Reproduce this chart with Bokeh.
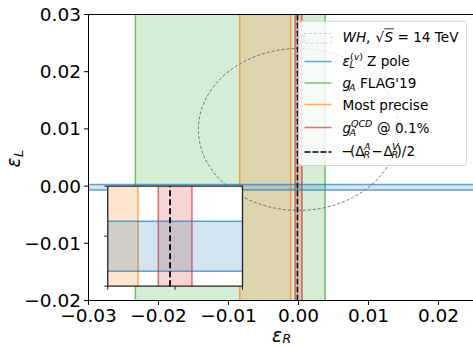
import math
from bokeh.plotting import figure
from bokeh.models import Range1d, Label, BoxAnnotation, Arrow
from bokeh.core.properties import value
from bokeh.embed import file_html
from bokeh.resources import INLINE

# ---------------- data ----------------
X_LIM = [-0.03, 0.025]
Y_LIM = [-0.02, 0.03]
X_TICKS = [-0.03, -0.02, -0.01, 0.0, 0.01, 0.02]
X_TICK_LABELS = ["−0.03", "−0.02", "−0.01", "0.00", "0.01", "0.02"]
Y_TICKS = [-0.02, -0.01, 0.0, 0.01, 0.02, 0.03]
Y_TICK_LABELS = ["−0.02", "−0.01", "0.00", "0.01", "0.02", "0.03"]

GA_FLAG19_EPS_R = [-0.0233, 0.0038]      # g_A FLAG'19 band (eps_R)
MOST_PRECISE_EPS_R = [-0.0084, -0.0011]  # most precise band (eps_R)
GA_QCD_EPS_R = [-0.0005, 0.0005]         # g_A^QCD @ 0.1% band (eps_R)
DELTA_EPS_R = [-0.00015]                 # -(Delta_R^A - Delta_R^V)/2
ZPOLE_EPS_L = [-0.0007, 0.0003]          # eps_L^(v) Z pole band (eps_L)
WH_CENTER = [0.0, 0.0099]                # WH ellipse centre (eps_R, eps_L)
WH_SIZE = [0.0286, 0.0283]               # WH ellipse full width / height

INSET_X_LIM = [-0.002, 0.002]
INSET_Y_LIM = [-0.001, 0.001]
INSET_X_TICKS = [-0.002, 0.0, 0.002]
INSET_Y_TICKS = [-0.001, 0.0, 0.001]

# ---------------- style / layout ----------------
BLUE, ORANGE, GREEN, RED = "#1f77b4", "#ff7f0e", "#2ca02c", "#d62728"
W, H = 473, 346
AX_LEFT, AX_RIGHT = 88, 473          # data area in canvas pixels
AX_TOP, AX_BOTTOM = 14, 300
INSET_FRAC = (0.05, 0.05, 0.40, 0.40)
FILL_A, EDGE_A, EDGE_W = 0.2, 0.65, 1.5
FONT = "DejaVu Sans"
TICK_PX = 18.5
BL = 0.36   # baseline correction (fraction of font size) for the svg text placement

# The whole canvas is the plotting frame (pixel coordinates, y up);
# the data axes are a sub-coordinate system mapped into it.
p = figure(width=W, height=H, x_range=Range1d(0, W), y_range=Range1d(0, H),
           output_backend="svg", toolbar_location=None,
           x_axis_type=None, y_axis_type=None, min_border=0,
           background_fill_color="white", border_fill_color="white")
p.outline_line_color = None
p.grid.visible = False

main = p.subplot(x_source=Range1d(*X_LIM), y_source=Range1d(*Y_LIM),
                 x_target=Range1d(AX_LEFT, AX_RIGHT), y_target=Range1d(H - AX_BOTTOM, H - AX_TOP))
PPX = (AX_RIGHT - AX_LEFT) / (X_LIM[1] - X_LIM[0])   # pixels per data unit
PPY = (AX_BOTTOM - AX_TOP) / (Y_LIM[1] - Y_LIM[0])


def vband(target, band, color, xlim, ylim):
    lo = max(band[0], xlim[0])
    hi = min(band[1], xlim[1])
    target.quad(left=[lo], right=[hi], bottom=[ylim[0]], top=[ylim[1]],
                fill_color=color, fill_alpha=FILL_A, line_color=None)
    xs = [v for v in band if xlim[0] <= v <= xlim[1]]
    if xs:
        target.segment(x0=xs, x1=xs, y0=[ylim[0]] * len(xs), y1=[ylim[1]] * len(xs),
                       line_color=color, line_alpha=EDGE_A, line_width=EDGE_W)


def hband(target, band, color, xlim, ylim):
    target.quad(left=[xlim[0]], right=[xlim[1]], bottom=[band[0]], top=[band[1]],
                fill_color=color, fill_alpha=FILL_A, line_color=None)
    target.segment(x0=[xlim[0]] * 2, x1=[xlim[1]] * 2, y0=band, y1=band,
                   line_color=color, line_alpha=EDGE_A, line_width=EDGE_W)


# ---------------- main panel ----------------
vband(main, GA_FLAG19_EPS_R, GREEN, X_LIM, Y_LIM)
vband(main, MOST_PRECISE_EPS_R, ORANGE, X_LIM, Y_LIM)
vband(main, GA_QCD_EPS_R, RED, X_LIM, Y_LIM)
hband(main, ZPOLE_EPS_L, BLUE, X_LIM, Y_LIM)
main.ellipse(x=[WH_CENTER[0]], y=[WH_CENTER[1]], width=[WH_SIZE[0]], height=[WH_SIZE[1]],
             fill_color=None, line_color="#6f6f6f", line_width=1, line_dash="3 2")
main.segment(x0=DELTA_EPS_R, x1=DELTA_EPS_R, y0=[Y_LIM[0]], y1=[Y_LIM[1]],
             line_color="black", line_width=1.5, line_dash="6 2")

# spines (left, bottom, top) and ticks
main.segment(x0=[X_LIM[0], X_LIM[0], X_LIM[0]], x1=[X_LIM[0], X_LIM[1], X_LIM[1]],
             y0=[Y_LIM[0], Y_LIM[0], Y_LIM[1]], y1=[Y_LIM[1], Y_LIM[0], Y_LIM[1]],
             line_color="black", line_width=1)
TICK = 4.5
main.segment(x0=X_TICKS, x1=X_TICKS, y0=[Y_LIM[0]] * len(X_TICKS),
             y1=[Y_LIM[0] - TICK / PPY] * len(X_TICKS), line_color="black", line_width=1)
main.segment(x0=[X_LIM[0]] * len(Y_TICKS), x1=[X_LIM[0] - TICK / PPX] * len(Y_TICKS),
             y0=Y_TICKS, y1=Y_TICKS, line_color="black", line_width=1)
main.text(x=X_TICKS, y=[Y_LIM[0]] * len(X_TICKS), text=X_TICK_LABELS,
          text_font=value(FONT), text_font_size=value(f"{TICK_PX}px"), text_color="black",
          text_align="center", text_baseline="alphabetic", y_offset=22 - BL * TICK_PX)
main.text(x=[X_LIM[0]] * len(Y_TICKS), y=Y_TICKS, text=Y_TICK_LABELS,
          text_font=value(FONT), text_font_size=value(f"{TICK_PX}px"), text_color="black",
          text_align="right", text_baseline="alphabetic", x_offset=-7.5,
          y_offset=6.7 - BL * TICK_PX)

# ---------------- inset ----------------
tx = [AX_LEFT + f * (AX_RIGHT - AX_LEFT) for f in (INSET_FRAC[0], INSET_FRAC[2])]
ty = [(H - AX_BOTTOM) + f * (AX_BOTTOM - AX_TOP) for f in (INSET_FRAC[1], INSET_FRAC[3])]
sub = p.subplot(x_source=Range1d(*INSET_X_LIM), y_source=Range1d(*INSET_Y_LIM),
                x_target=Range1d(*tx), y_target=Range1d(*ty))
sub.quad(left=[INSET_X_LIM[0]], right=[INSET_X_LIM[1]], bottom=[INSET_Y_LIM[0]], top=[INSET_Y_LIM[1]],
         fill_color="white", line_color=None)
vband(sub, MOST_PRECISE_EPS_R, ORANGE, INSET_X_LIM, INSET_Y_LIM)
vband(sub, GA_QCD_EPS_R, RED, INSET_X_LIM, INSET_Y_LIM)
hband(sub, ZPOLE_EPS_L, BLUE, INSET_X_LIM, INSET_Y_LIM)
sub.segment(x0=DELTA_EPS_R, x1=DELTA_EPS_R, y0=[INSET_Y_LIM[0]], y1=[INSET_Y_LIM[1]],
            line_color="black", line_width=1.8, line_dash="6 3")
sub.quad(left=[INSET_X_LIM[0]], right=[INSET_X_LIM[1]], bottom=[INSET_Y_LIM[0]], top=[INSET_Y_LIM[1]],
         fill_color=None, line_color="#222222", line_width=1.3)
ipx = (tx[1] - tx[0]) / (INSET_X_LIM[1] - INSET_X_LIM[0])
ipy = (ty[1] - ty[0]) / (INSET_Y_LIM[1] - INSET_Y_LIM[0])
TL = 3.5
sub.segment(x0=INSET_X_TICKS, x1=INSET_X_TICKS, y0=[INSET_Y_LIM[0]] * 3,
            y1=[INSET_Y_LIM[0] - TL / ipy] * 3, line_color="#222222", line_width=1)
sub.segment(x0=[INSET_X_LIM[0]] * 3, x1=[INSET_X_LIM[0] - TL / ipx] * 3,
            y0=INSET_Y_TICKS, y1=INSET_Y_TICKS, line_color="#222222", line_width=1)


# ---------------- screen-placed texts (canvas pixels, y from top) ----------------
def sy(cy):
    return H - cy


def txt(text, cx, cy, size, style="normal", angle=0.0):
    # (cx, cy) is the intended baseline start; shift to compensate text placement
    if angle:
        cx = cx - BL * size
    else:
        cy = cy - BL * size
    p.add_layout(Label(x=cx, y=sy(cy), x_units="screen", y_units="screen", text=text,
                       text_font=FONT, text_font_size=f"{size}px", text_font_style=style,
                       text_color="black", text_baseline="alphabetic", text_align="left",
                       angle=angle))


def seg(x0, y0, x1, y1, color, alpha=1.0, width=1.5, dash="solid"):
    p.add_layout(Arrow(x_start=x0, y_start=sy(y0), x_end=x1, y_end=sy(y1),
                       start_units="screen", end_units="screen", start=None, end=None,
                       line_color=color, line_alpha=alpha, line_width=width, line_dash=dash))


# axis labels
txt("ε", 271.5, 341.5, 18.5, "italic")
txt("R", 282, 342.3, 12.5, "italic")
txt("ε", 20, 167, 18.5, "italic", math.pi / 2)
txt("L", 22.5, 156.5, 13, "italic", math.pi / 2)

# legend frame
p.add_layout(BoxAnnotation(left=298, right=466, top=sy(20.7), bottom=sy(165),
                           left_units="screen", right_units="screen",
                           top_units="screen", bottom_units="screen",
                           fill_color="white", fill_alpha=0.8,
                           line_color="#cccccc", line_alpha=0.8, line_width=1,
                           border_radius=3))
# legend handles
p.add_layout(BoxAnnotation(left=303.5, right=331, top=sy(33), bottom=sy(42.5),
                           left_units="screen", right_units="screen",
                           top_units="screen", bottom_units="screen",
                           fill_color=None, line_color="#6f6f6f", line_width=1, line_dash="3 2"))
for y, c in zip([61, 82.5, 104, 127], [BLUE, GREEN, ORANGE, RED]):
    seg(304, y, 331, y, c, EDGE_A)
seg(304, 151.5, 331, 151.5, "black", 1.0, 1.5, "6 2")

L, S = 13.6, 9.5
b = [41.5, 65, 87.5, 109, 132.5, 155]
UP, DN = 6, 2.5
pieces = [
    ("WH", 342, b[0], L, "italic"), (",", 365.5, b[0], L, "normal"),
    ("√", 375, b[0], L, "normal"), ("S", 384, b[0], L, "italic"),
    ("= 14 TeV", 397, b[0], L, "normal"),
    ("ε", 342, b[1], L, "italic"), ("(", 349.5, b[1] - UP, S, "normal"),
    ("v", 353.2, b[1] - UP, S, "italic"), (")", 358.8, b[1] - UP, S, "normal"),
    ("L", 349, b[1] + DN, S, "italic"), ("Z pole", 366.5, b[1], L, "normal"),
    ("g", 342, b[2], L, "italic"), ("A", 348.5, b[2] + DN, S, "italic"),
    ("FLAG'19", 359.5, b[2], L, "normal"),
    ("Most precise", 342, b[3], L, "normal"),
    ("g", 342, b[4], L, "italic"), ("QCD", 350.5, b[4] - UP, S, "italic"),
    ("A", 349, b[4] + DN, S, "italic"), ("@ 0.1%", 376.5, b[4], L, "normal"),
    ("−", 340.8, b[5], L, "normal"), ("(Δ", 349.5, b[5], L, "normal"),
    ("A", 363.5, b[5] - UP, S, "italic"), ("R", 363, b[5] + DN, S, "italic"),
    ("−", 371, b[5], L, "normal"), ("Δ", 383, b[5], L, "normal"),
    ("V", 391.5, b[5] - UP, S, "italic"), ("R", 391, b[5] + DN, S, "italic"),
    (")/2", 396, b[5], L, "normal"),
]
for t, cx, cy, size, style in pieces:
    txt(t, cx, cy, size, style)
seg(383.6, 28.3, 393.5, 28.3, "black", 1.0, 0.8)

open("out.html", "w").write(file_html(p, INLINE))
